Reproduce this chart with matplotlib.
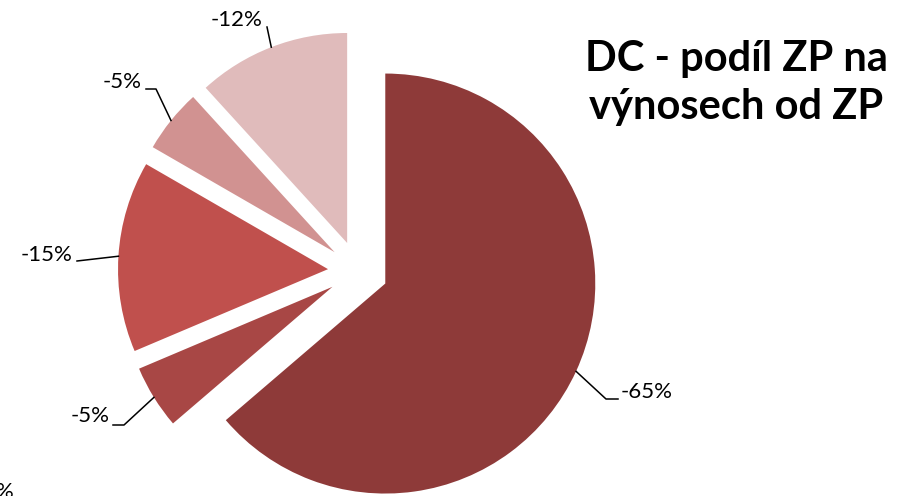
import numpy as np
import matplotlib.pyplot as plt

# podíly (záporné hodnoty, graf kreslí absolutní velikost)
labels = ['-65%', '-5%', '-15%', '-5%', '-12%']
values = [65, 5, 15, 5, 12]
colors = ['#8E3A39', '#A84745', '#C0504D', '#D19291', '#E0BBBB']
title = 'DC - podíl ZP na\nvýnosech od ZP'

W, H = 902, 496
CX, CY, R = 358, 271, 210  # střed koláče a poloměr v pixelech


def px(x, y):
    # pixel (od levého horního rohu) -> datové souřadnice
    return (x - CX) / R, (CY - y) / R


fig = plt.figure(figsize=(W / 100, H / 100), dpi=100)
ax = fig.add_axes([0, 0, 1, 1])

wedges, _ = ax.pie(values, colors=colors, startangle=90, counterclock=False,
                   explode=[0.143] * len(values), radius=1,
                   wedgeprops=dict(linewidth=0))

ax.set_xlim(-CX / R, (W - CX) / R)
ax.set_ylim(-(H - CY) / R, CY / R)
ax.set_aspect('equal')
ax.axis('off')

# pozice popisků a zalomení vodících čar (pixely), ve stejném pořadí jako výseče
label_pos = [(621, 392, 'left'), (110, 416, 'right'), (73, 255, 'right'),
             (142, 82, 'right'), (263, 20, 'right')]
elbows = [[(606, 399), (618, 399)], [(124, 425), (113, 425)], [(77, 261)],
          [(156, 89), (146, 89)], [(267, 27)]]

for w, lab, (lx, ly, ha), elb in zip(wedges, labels, label_pos, elbows):
    mid = np.deg2rad((w.theta1 + w.theta2) / 2)
    cx, cy = w.center
    sx, sy = cx + w.r * np.cos(mid), cy + w.r * np.sin(mid)
    pts = [(sx, sy)] + [px(*p) for p in elb]
    ax.plot([p[0] for p in pts], [p[1] for p in pts], color='black', lw=1.1)
    tx, ty = px(lx, ly)
    ax.text(tx, ty, lab, ha=ha, va='center', fontsize=16, family='Lato')

# useknutý popisek v levém dolním rohu
ax.text(*px(14, 492), '0%', ha='right', va='center', fontsize=16, family='Lato')

ax.text(*px(736, 83), title, ha='center', va='center', fontsize=30,
        fontweight='bold', family='Lato', linespacing=1.3)

fig.savefig('out.png', dpi=100)
